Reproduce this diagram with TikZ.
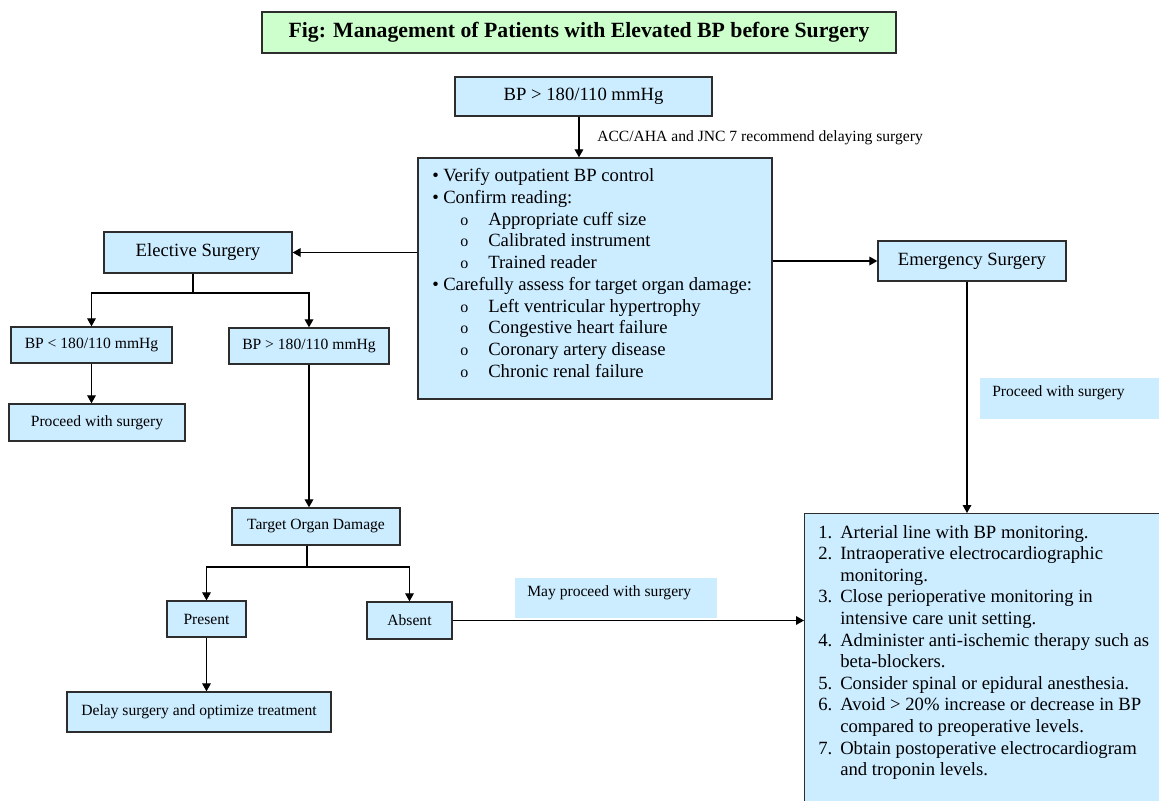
\documentclass[tikz,border=0pt]{standalone}
\usepackage{fontspec}
\setmainfont{Liberation Serif}
\usetikzlibrary{arrows.meta}
\definecolor{boxblue}{RGB}{204,236,255}
\definecolor{titlegreen}{RGB}{204,255,204}
\definecolor{edgegray}{RGB}{45,45,45}
\newcommand{\circitem}{{\fontsize{12}{12}\selectfont o}}
\tikzset{
  box/.style={draw=edgegray, fill=boxblue, line width=1pt, inner sep=0pt},
  big/.style={font=\fontsize{14}{16.3}\selectfont},
  small/.style={font=\fontsize{11.7}{14}\selectfont},
  conn/.style={draw=black, line width=0.9pt},
  arr/.style={conn, -{Triangle[length=6pt,width=6.5pt]}},
  lbl/.style={fill=boxblue, inner sep=0pt}
}
\begin{document}
\begin{tikzpicture}[x=0.75pt,y=-0.75pt]
\useasboundingbox (0,0) rectangle (1159,800);

% title
\node[box, fill=titlegreen, minimum width=634*0.75pt, minimum height=41*0.75pt, font=\bfseries\fontsize{16.3}{18}\selectfont] (title) at (579,32.5)
  {Fig: Management of Patients with Elevated BP before Surgery};

% main boxes
\node[box, big, minimum width=257*0.75pt, minimum height=39*0.75pt] (top) at (583.5,96.5) {BP > 180/110 mmHg};
\node[box, minimum width=354*0.75pt, minimum height=241*0.75pt] (ctr) at (595,278.5) {};
\node[big, anchor=base west, inner sep=0pt] (ctrtext) at (432,181.7) {%
  \begin{tabular}[t]{@{}l@{}}
  \makebox[8.25pt][l]{\textbullet}Verify outpatient BP control\\
  \makebox[8.25pt][l]{\textbullet}Confirm reading:\\
  \hspace*{21pt}\makebox[21pt][l]{\circitem}Appropriate cuff size\\
  \hspace*{21pt}\makebox[21pt][l]{\circitem}Calibrated instrument\\
  \hspace*{21pt}\makebox[21pt][l]{\circitem}Trained reader\\
  \makebox[8.25pt][l]{\textbullet}Carefully assess for target organ damage:\\
  \hspace*{21pt}\makebox[21pt][l]{\circitem}Left ventricular hypertrophy\\
  \hspace*{21pt}\makebox[21pt][l]{\circitem}Congestive heart failure\\
  \hspace*{21pt}\makebox[21pt][l]{\circitem}Coronary artery disease\\
  \hspace*{21pt}\makebox[21pt][l]{\circitem}Chronic renal failure
  \end{tabular}};

\node[box, big, minimum width=188*0.75pt, minimum height=41*0.75pt] (elect) at (198,252.5) {Elective Surgery};
\node[box, big, minimum width=188*0.75pt, minimum height=40*0.75pt] (emerg) at (972,261) {Emergency Surgery};

\node[box, small, minimum width=161*0.75pt, minimum height=36*0.75pt] (bpl) at (91.5,345) {BP < 180/110 mmHg};
\node[box, small, minimum width=160*0.75pt, minimum height=36*0.75pt] (bpg) at (309,346) {BP > 180/110 mmHg};
\node[box, small, minimum width=176*0.75pt, minimum height=37*0.75pt] (proc) at (97,422.5) {Proceed with surgery};
\node[box, small, minimum width=168*0.75pt, minimum height=37*0.75pt] (tod) at (316,526.5) {Target Organ Damage};
\node[box, small, minimum width=79*0.75pt, minimum height=36*0.75pt] (pres) at (206.5,619) {Present};
\node[box, small, minimum width=85*0.75pt, minimum height=37*0.75pt] (abs) at (409.5,620.5) {Absent};
\node[box, small, minimum width=264*0.75pt, minimum height=40*0.75pt] (delay) at (199,712) {Delay surgery and optimize treatment};

% right box
\node[box, minimum width=358*0.75pt, minimum height=300*0.75pt, anchor=north west] (rbox) at (804,513) {};
\node[big, anchor=base west, inner sep=0pt] (rtext) at (818,538) {%
  \fontsize{14}{16.2}\selectfont
  \begin{tabular}[t]{@{}l@{}}
  \makebox[16.5pt][l]{1.}Arterial line with BP monitoring.\\
  \makebox[16.5pt][l]{2.}Intraoperative electrocardiographic\\
  \hspace*{16.5pt}monitoring.\\
  \makebox[16.5pt][l]{3.}Close perioperative monitoring in\\
  \hspace*{16.5pt}intensive care unit setting.\\
  \makebox[16.5pt][l]{4.}Administer anti-ischemic therapy such as\\
  \hspace*{16.5pt}beta-blockers.\\
  \makebox[16.5pt][l]{5.}Consider spinal or epidural anesthesia.\\
  \makebox[16.5pt][l]{6.}Avoid > 20\% increase or decrease in BP\\
  \hspace*{16.5pt}compared to preoperative levels.\\
  \makebox[16.5pt][l]{7.}Obtain postoperative electrocardiogram\\
  \hspace*{16.5pt}and troponin levels.
  \end{tabular}};

% labels
\node[small, anchor=base west, inner sep=0pt] (acc) at (597,141) {ACC/AHA and JNC 7 recommend delaying surgery};
\node[lbl, minimum width=179*0.75pt, minimum height=41*0.75pt, anchor=north west] (procbg) at (980,378) {};
\node[small, anchor=west, inner sep=0pt] (proclbl) at (992,393) {Proceed with surgery};
\node[lbl, minimum width=202*0.75pt, minimum height=40*0.75pt, anchor=north west] (maybg) at (515,578) {};
\node[small, anchor=west, inner sep=0pt] (maylbl) at (527,593) {May proceed with surgery};

% connectors
\draw[arr] ([xshift=-3.4pt]top.south) -- ([xshift=-3.4pt]top.south |- ctr.north);
\draw[arr] (elect.east -| ctr.west) -- (elect.east);
\draw[arr] (emerg.west -| ctr.east) -- (emerg.west);
\coordinate (j1) at (193,293);
\draw[conn] (j1 |- elect.south) -- (j1);
\draw[arr] (j1) -| (bpl.north);
\draw[arr] (j1) -| (bpg.north);
\draw[arr] (bpl.south) -- (bpl.south |- proc.north);
\draw[arr] (bpg.south) -- (bpg.south |- tod.north);
\coordinate (j2) at (307,567);
\draw[conn] (j2 |- tod.south) -- (j2);
\draw[arr] (j2) -| (pres.north);
\draw[arr] (j2) -| (abs.north);
\draw[arr] (pres.south) -- (pres.south |- delay.north);
\draw[arr] (abs.east) -- (abs.east -| rbox.west);
\draw[arr] ([xshift=-3.75pt]emerg.south) -- ([xshift=-3.75pt]emerg.south |- rbox.north);
\end{tikzpicture}
\end{document}
